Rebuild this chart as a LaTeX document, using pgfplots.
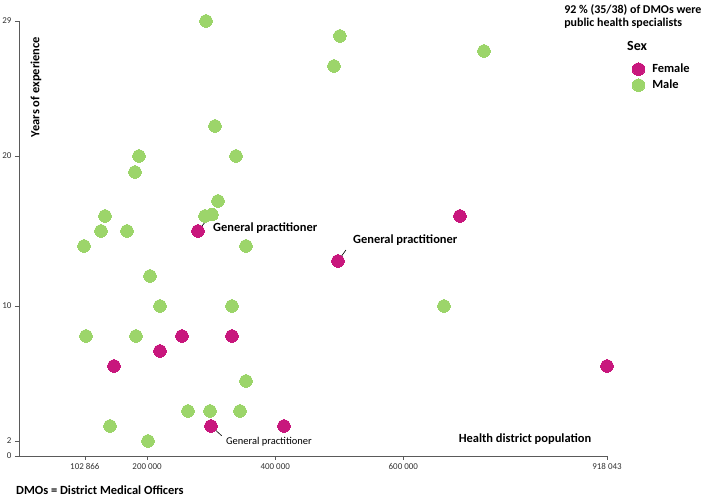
\documentclass[border=0pt]{standalone}
\usepackage{pgfplots}
\pgfplotsset{compat=1.18}
\usepackage{fontspec}
\setmainfont{Carlito}
\definecolor{fem}{HTML}{C8177D}
\definecolor{mal}{HTML}{9CD56A}
\definecolor{axgray}{HTML}{5A5A5A}
\begin{document}
\begin{tikzpicture}[x=1bp,y=1bp]
\path[use as bounding box] (-19,-42) rectangle (690,456);
\begin{axis}[
  at={(0,0)}, anchor=south west,
  scale only axis, width=588bp, height=435bp,
  xmin=0, xmax=918043, ymin=0, ymax=29,
  axis x line*=bottom, axis y line*=left,
  axis line style={axgray, line width=0.8pt, -},
  xtick={102866,200000,400000,600000,918043},
  xticklabels={102 866,200 000,400 000,600 000,918 043},
  ytick={0,1,10,20,29}, yticklabels={0,2,10,20,29},
  scaled x ticks=false,
  tick align=outside, major tick length=4bp,
  tick style={axgray, line width=0.6pt},
  tick label style={font=\fontsize{9}{10}\selectfont, text=black!80},
  clip=false,
  legend cell align=left,
  legend style={draw=none, fill=none, inner sep=0pt, column sep=5bp,
    at={(axis description cs:1.0425,0.908)}, anchor=north west,
    font=\bfseries\fontsize{12.5}{14}\selectfont,
    nodes={inner sep=2.5bp, text height=8.5bp, text depth=2.5bp}},
  legend image code/.code={\draw[mark repeat=2,mark phase=2,#1] plot coordinates {(0bp,0bp)(7bp,0bp)(14bp,0bp)};},
]
\addplot[only marks, mark=*, mark size=6.3bp, color=fem, mark options={draw=fem, fill=fem, line width=0pt}] coordinates {
(279400,15) (498000,13) (688400,16) (254400,8) (332500,8) (220100,7) (148300,6) (299700,2) (413700,2) (918043,6)
};
\addlegendentry{Female}
\addplot[only marks, mark=*, mark size=6.3bp, color=mal, mark options={draw=mal, fill=mal, line width=0pt}] coordinates {
(301300,16.1)
(292000,29) (501000,28) (491700,26) (725900,27) (306000,22) (187300,20) (338800,20) (181100,18.93)
(310700,17) (134300,16) (290400,16) (128000,15) (168600,15) (101500,14) (354400,14)
(204500,12) (220100,10) (332500,10) (663400,10) (104600,8) (182600,8) (354400,5)
(263800,3) (298200,3) (345000,3) (142100,2) (201400,1)
};
\addlegendentry{Male}
% leader lines and annotations
\draw[black, line width=0.6pt] (axis cs:279400,15) -- (axis cs:293500,15.75);
\draw[black, line width=0.6pt] (axis cs:498000,13) -- (axis cs:510400,13.73);
\draw[black, line width=0.6pt] (axis cs:299700,2) -- (axis cs:316400,1.35);
\node[anchor=west, inner sep=0pt, font=\bfseries\fontsize{12.5}{14}\selectfont] at (axis cs:302800,15.2) {General practitioner};
\node[anchor=west, inner sep=0pt, font=\bfseries\fontsize{12.5}{14}\selectfont] at (axis cs:521400,14.4) {General practitioner};
\node[anchor=west, inner sep=0pt, font=\fontsize{10.5}{12}\selectfont] at (axis cs:323100,0.95) {General practitioner};
\node[rotate=90, inner sep=0pt, font=\bfseries\fontsize{12.5}{14}\selectfont] at (axis description cs:0.0289,0.848) {Years of experience};
\node[inner sep=0pt, font=\bfseries\fontsize{12.5}{14}\selectfont] at (axis description cs:0.8605,0.039) {Health district population};
\node[anchor=west, inner sep=0pt, font=\bfseries\fontsize{12.5}{14}\selectfont] at (axis description cs:-0.0051,-0.0775) {DMOs = District Medical Officers};
\node[anchor=north west, inner sep=0pt, align=left, font=\bfseries\fontsize{12}{12.5}\selectfont] at (axis description cs:0.927,1.037) {92 \% (35/38) of DMOs were\\public health specialists};
\node[anchor=west, inner sep=0pt, font=\bfseries\fontsize{14}{16}\selectfont] at (axis description cs:1.034,0.9425) {Sex};
\end{axis}
\end{tikzpicture}
\end{document}
